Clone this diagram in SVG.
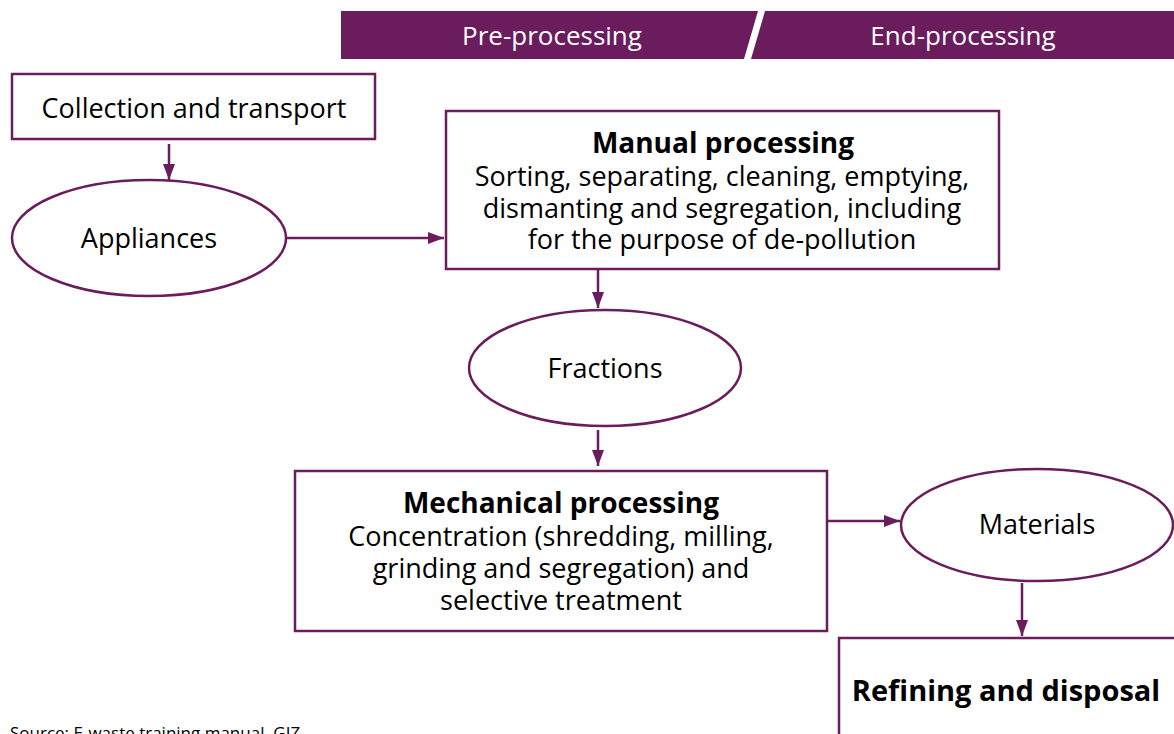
<svg xmlns="http://www.w3.org/2000/svg" width="1174" height="734" viewBox="0 0 1174 734">
<style>
text{font-family:"Open Sans","Noto Sans","Liberation Sans",sans-serif;font-size:27px;fill:#000;text-anchor:middle}
.b{font-weight:bold;font-size:28px}
.hd{fill:#fff;font-size:26px}
.node{fill:#fff;stroke:#6B1C5C;stroke-width:2.5}
.edge{stroke:#6B1C5C;stroke-width:2.5;fill:none}
</style>
<defs>
<marker id="a" viewBox="0 0 16 12" refX="16" refY="6" markerWidth="16" markerHeight="12" markerUnits="userSpaceOnUse" orient="auto">
<path d="M0,0 L16,6 L0,12 z" fill="#6B1C5C"/>
</marker>
</defs>
<g id="header">
<polygon points="341,11 758,11 744,59 341,59" fill="#6B1C5C"/>
<polygon points="765,11 1174,11 1174,59 751,59" fill="#6B1C5C"/>
<text class="hd" x="552" y="45">Pre-processing</text>
<text class="hd" x="963" y="45">End-processing</text>
</g>
<g id="connectors">
<line class="edge" x1="169" y1="144" x2="169" y2="180" marker-end="url(#a)"/>
<line class="edge" x1="286" y1="238" x2="444" y2="238" marker-end="url(#a)"/>
<line class="edge" x1="598" y1="270" x2="598" y2="308" marker-end="url(#a)"/>
<line class="edge" x1="598" y1="430" x2="598" y2="466" marker-end="url(#a)"/>
<line class="edge" x1="828" y1="521" x2="900" y2="521" marker-end="url(#a)"/>
<line class="edge" x1="1022" y1="583" x2="1022" y2="636" marker-end="url(#a)"/>
</g>
<g id="collection">
<rect class="node" x="12" y="74" width="363" height="65"/>
<text x="194" y="118">Collection and transport</text>
</g>
<g id="appliances">
<ellipse class="node" cx="149" cy="238" rx="137" ry="58"/>
<text x="149" y="248">Appliances</text>
</g>
<g id="manual">
<rect class="node" x="446" y="111" width="553" height="158"/>
<text class="b" x="723" y="153">Manual processing</text>
<text x="722" y="186">Sorting, separating, cleaning, emptying,</text>
<text x="722" y="218">dismanting and segregation, including</text>
<text x="722" y="249">for the purpose of de-pollution</text>
</g>
<g id="fractions">
<ellipse class="node" cx="605" cy="368" rx="136" ry="58"/>
<text x="605" y="378">Fractions</text>
</g>
<g id="mechanical">
<rect class="node" x="295" y="471" width="532" height="160"/>
<text class="b" x="561" y="513">Mechanical processing</text>
<text x="561" y="546">Concentration (shredding, milling,</text>
<text x="561" y="578">grinding and segregation) and</text>
<text x="561" y="610">selective treatment</text>
</g>
<g id="materials">
<ellipse class="node" cx="1037" cy="525" rx="136" ry="56"/>
<text x="1037" y="534">Materials</text>
</g>
<g id="refining">
<rect class="node" x="839" y="638" width="345" height="120"/>
<text class="b" x="1006" y="701" style="font-size:29px">Refining and disposal</text>
</g>
<text x="10" y="739" style="text-anchor:start;font-size:17px">Source: E-waste training manual, GIZ</text>
</svg>
